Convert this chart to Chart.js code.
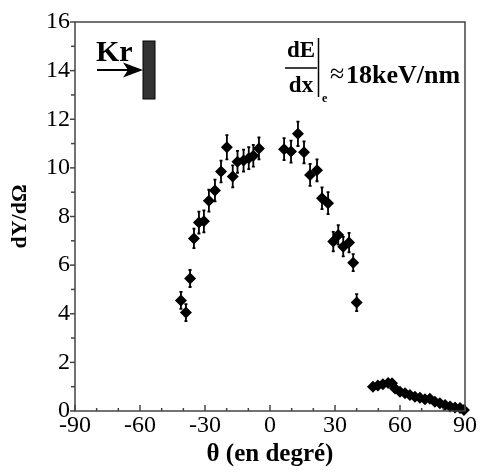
<!DOCTYPE html>
<html>
<head>
<meta charset="utf-8">
<script src="https://cdn.jsdelivr.net/npm/chart.js@4"></script>
<style>
  html, body { margin: 0; padding: 0; background: #fff; }
  #wrap { width: 482px; height: 473px; position: relative; }
</style>
</head>
<body>
<div id="wrap"><canvas id="chart"></canvas></div>
<script>
// Angular distribution dY/dOmega vs theta (Kr beam)
const thetaMain = [-41.1, -38.8, -36.9, -35.1, -32.8, -30.5, -28.2, -25.4, -22.6, -19.9, -17.2,
    -15.0, -12.2, -9.8, -7.7, -5.1,
    6.5, 9.7, 12.9, 15.7, 18.5, 21.7, 24.0, 26.8, 29.2, 31.5, 33.8, 36.5, 38.4, 40.0];
const yieldMain = [4.55, 4.05, 5.45, 7.1, 7.75, 7.8, 8.65, 9.07, 9.85, 10.85, 9.65,
    10.25, 10.3, 10.4, 10.5, 10.8,
    10.77, 10.67, 11.4, 10.64, 9.71, 9.9, 8.75, 8.55, 6.97, 7.24, 6.76, 6.93, 6.1, 4.46];
const errMain = [0.35, 0.35, 0.35, 0.4, 0.45, 0.45, 0.45, 0.45, 0.45, 0.5, 0.45,
    0.45, 0.45, 0.45, 0.45, 0.45,
    0.45, 0.45, 0.5, 0.45, 0.45, 0.45, 0.45, 0.45, 0.4, 0.4, 0.4, 0.4, 0.35, 0.35];

const thetaTail = [47.5, 49.8, 52.1, 54.5, 56.3, 57.7, 60.0, 62.3, 64.6, 66.9, 69.2, 71.5,
    73.8, 76.1, 78.4, 80.8, 83.1, 85.4, 87.7, 89.5];
const yieldTail = [1.0, 1.05, 1.1, 1.15, 1.14, 0.93, 0.79, 0.73, 0.66, 0.59, 0.55, 0.48,
    0.5, 0.38, 0.32, 0.25, 0.18, 0.14, 0.12, 0.04];

const xTicks = [-90, -60, -30, 0, 30, 60, 90];
const yTicks = [0, 2, 4, 6, 8, 10, 12, 14, 16];

const SERIF = '"Liberation Serif", "Times New Roman", serif';

// error bars, frame, inward x ticks and the Kr / dE/dx annotations
const extras = {
    id: 'extras',
    beforeDatasetsDraw(chart) {
        const ctx = chart.ctx;
        const x = chart.scales.x, y = chart.scales.y;
        ctx.save();
        ctx.strokeStyle = '#000';
        ctx.lineWidth = 1.8;
        thetaMain.forEach((t, i) => {
            const px = x.getPixelForValue(t);
            const top = y.getPixelForValue(yieldMain[i] + errMain[i]);
            const bot = y.getPixelForValue(yieldMain[i] - errMain[i]);
            ctx.beginPath();
            ctx.moveTo(px, top); ctx.lineTo(px, bot);
            ctx.moveTo(px - 1.5, top); ctx.lineTo(px + 1.5, top);
            ctx.moveTo(px - 1.5, bot); ctx.lineTo(px + 1.5, bot);
            ctx.stroke();
        });
        ctx.restore();
    },
    afterDraw(chart) {
        const ctx = chart.ctx;
        const a = chart.chartArea;
        const x = chart.scales.x, y = chart.scales.y;
        ctx.save();
        // frame
        ctx.strokeStyle = '#444';
        ctx.lineWidth = 1.5;
        ctx.strokeRect(a.left, a.top, a.right - a.left, a.bottom - a.top);
        // x ticks (inward)
        for (let v = -90; v <= 90; v += 10) {
            const px = x.getPixelForValue(v);
            const len = xTicks.includes(v) ? 6 : 3;
            ctx.beginPath();
            ctx.moveTo(px, a.bottom); ctx.lineTo(px, a.bottom - len);
            ctx.stroke();
        }
        // y ticks (outward)
        for (let v = 0; v <= 16; v += 1) {
            const py = y.getPixelForValue(v);
            const len = yTicks.includes(v) ? 5 : 4;
            ctx.beginPath();
            ctx.moveTo(a.left, py); ctx.lineTo(a.left - len, py);
            ctx.stroke();
        }

        // Kr arrow and target
        ctx.fillStyle = '#000';
        ctx.font = 'bold 30px ' + SERIF;
        ctx.textBaseline = 'alphabetic';
        ctx.textAlign = 'left';
        ctx.fillText('Kr', 96, 61);
        ctx.strokeStyle = '#000';
        ctx.lineWidth = 2;
        ctx.beginPath();
        ctx.moveTo(97, 70); ctx.lineTo(128, 70);
        ctx.stroke();
        ctx.beginPath();
        ctx.moveTo(143, 70); ctx.lineTo(123, 62.5); ctx.lineTo(128, 70); ctx.lineTo(123, 77.5);
        ctx.closePath();
        ctx.fill();
        ctx.fillStyle = '#333';
        ctx.fillRect(143, 41, 12, 58);
        ctx.strokeStyle = '#000';
        ctx.lineWidth = 1;
        ctx.strokeRect(143, 41, 12, 58);

        // dE/dx |e  ~ 18keV/nm
        ctx.fillStyle = '#000';
        ctx.font = 'bold 23px ' + SERIF;
        ctx.textAlign = 'center';
        ctx.fillText('dE', 301, 57);
        ctx.fillText('dx', 301, 92);
        ctx.lineWidth = 1.5;
        ctx.beginPath();
        ctx.moveTo(285, 68); ctx.lineTo(317, 68);
        ctx.moveTo(318.5, 38); ctx.lineTo(318.5, 97);
        ctx.stroke();
        ctx.font = 'bold 12px ' + SERIF;
        ctx.textAlign = 'left';
        ctx.fillText('e', 322, 102);
        ctx.font = '26px ' + SERIF;
        ctx.fillText('\u2248', 330, 82);
        ctx.font = 'bold 26px ' + SERIF;
        ctx.fillText('18keV/nm', 346, 83);
        ctx.restore();
    }
};

new Chart(document.getElementById('chart'), {
    type: 'scatter',
    data: {
        datasets: [{
            data: thetaMain.map((t, i) => ({ x: t, y: yieldMain[i] })),
            pointStyle: 'rectRot',
            pointRadius: 6,
            backgroundColor: '#000',
            borderColor: '#000',
            borderWidth: 0
        }, {
            data: thetaTail.map((t, i) => ({ x: t, y: yieldTail[i] })),
            pointStyle: 'rectRot',
            pointRadius: 6,
            backgroundColor: '#000',
            borderColor: '#000',
            borderWidth: 0
        }]
    },
    options: {
        responsive: true,
        maintainAspectRatio: false,
        animation: false,
        clip: false,
        layout: { padding: { top: 22, right: 17, left: 0, bottom: 0 } },
        plugins: { legend: { display: false }, tooltip: { enabled: false } },
        scales: {
            x: {
                type: 'linear',
                min: -90, max: 90,
                afterFit: s => { s.height = 62; },
                grid: { display: false, drawTicks: false },
                border: { display: false },
                ticks: {
                    stepSize: 10, autoSkip: false, maxRotation: 0, padding: 0,
                    color: '#000', font: { family: SERIF, size: 24 },
                    callback: v => xTicks.includes(v) ? String(v) : ''
                },
                title: {
                    display: true, text: '\u03b8 (en degr\u00e9)', color: '#000',
                    font: { family: SERIF, size: 25, weight: 'bold' },
                    padding: { top: 0, bottom: 3 }
                }
            },
            y: {
                min: 0, max: 16,
                afterFit: s => { s.width = 75; },
                grid: { display: false, drawTicks: false },
                border: { display: false },
                ticks: {
                    stepSize: 1, autoSkip: false, padding: 5,
                    color: '#000', font: { family: SERIF, size: 24 },
                    callback: v => yTicks.includes(v) ? String(v) : ''
                },
                title: {
                    display: true, text: 'dY/d\u03a9', color: '#000',
                    font: { family: SERIF, size: 22, weight: 'bold' },
                    padding: { top: 7, bottom: 0 }
                }
            }
        }
    },
    plugins: [extras]
});
</script>
</body>
</html>
